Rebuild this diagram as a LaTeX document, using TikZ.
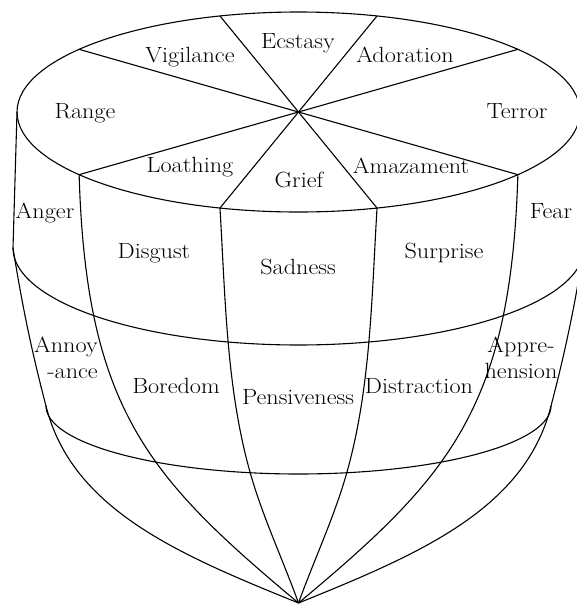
\documentclass[tikz,border=0pt]{standalone}
\newcommand\lblwide[1]{\scalebox{1.1}[1]{#1}}
\begin{document}
\begin{tikzpicture}[x=1pt,y=-1pt,
  wire/.style={line width=1.1pt, black},
  lbl/.style={font=\fontsize{22}{26}\selectfont, inner sep=0pt, text height=15pt, text depth=4pt},
  lbltwo/.style={font=\fontsize{22}{26}\selectfont, inner sep=0pt}]
\useasboundingbox (0,0) rectangle (577,606);
\begin{scope}
\clip (0,0) rectangle (577,606);
% top ellipse
\coordinate (C) at (298.5,112);
\draw[wire] (C) ellipse [x radius=281.5pt, y radius=100pt];
\foreach \t/\n in {38.8/a,73.8/b,106.2/c,141.2/d,218.8/e,253.8/f,286.2/g,321.2/h}
  \coordinate (T\n) at ({298.5+281.5*cos(\t)},{112-100*sin(\t)});
\draw[wire] (Ta) -- (Te);
\draw[wire] (Tb) -- (Tf);
\draw[wire] (Tc) -- (Tg);
\draw[wire] (Td) -- (Th);
% key points
\coordinate (TL) at (17,112);
\coordinate (TR) at (580,112);
\coordinate (ML) at (13,248);
\coordinate (MR) at (584,248);
\coordinate (LL) at (46,406);
\coordinate (LR) at (551,406);
\coordinate (B3) at (250,472);
\coordinate (B4) at (347,472);
\coordinate (A) at (298.5,603);
% middle and lower arcs
\draw[wire] plot[domain=0:180, samples=120] ({298.5-285.5*cos(\x)},{248+97*sin(\x)});
\draw[wire] plot[domain=0:180, samples=120] ({298.5-252.5*cos(\x)},{406+68*sin(\x)});
% outer meridians
\draw[wire] (TL) -- (ML) .. controls (21,298) and (30,345) .. (LL)
  .. controls (72,510) and (180,555) .. (A);
\draw[wire] (TR) -- (MR) .. controls (576,298) and (567,345) .. (LR)
  .. controls (525,510) and (417,555) .. (A);
% inner meridians
\draw[wire] (Te) .. controls (86.1,409.7) and (148.9,478) .. (A);
\draw[wire] (Th) .. controls (510.9,409.7) and (448.1,478) .. (A);
\draw[wire] (Tf) .. controls (225.3,295.8) and (226.2,387.3) .. (B3)
  .. controls (262.4,516.3) and (282.9,559.7) .. (A);
\draw[wire] (Tg) .. controls (371.7,295.8) and (370.8,387.3) .. (B4)
  .. controls (334.6,516.3) and (314.1,559.7) .. (A);
\end{scope}
% labels
\node[lbl] (ecstasy) at (298,43) {\lblwide{Ecstasy}};
\node[lbl] (vigilance) at (190,57) {\lblwide{Vigilance}};
\node[lbl] (adoration) at (405,57) {\lblwide{Adoration}};
\node[lbl] (range) at (85,113) {\lblwide{Range}};
\node[lbl] (terror) at (517,113) {\lblwide{Terror}};
\node[lbl] (loathing) at (190,167) {\lblwide{Loathing}};
\node[lbl] (grief) at (299,182) {\lblwide{Grief}};
\node[lbl] (amazament) at (411,168) {\lblwide{Amazament}};
\node[lbl] (anger) at (45,213) {\lblwide{Anger}};
\node[lbl] (disgust) at (154,253) {\lblwide{Disgust}};
\node[lbl] (sadness) at (298,269) {\lblwide{Sadness}};
\node[lbl] (surprise) at (444,253) {\lblwide{Surprise}};
\node[lbl] (fear) at (551,213) {\lblwide{Fear}};
\node[lbltwo, anchor=east] (annoy) at (98,360)
  {\lblwide{\begin{tabular}{@{}r@{}}Annoy\\-ance\end{tabular}}};
\node[lbl] (boredom) at (176,388) {\lblwide{Boredom}};
\node[lbl] (pensive) at (298,399) {\lblwide{Pensiveness}};
\node[lbl] (distraction) at (419,388) {\lblwide{Distraction}};
\node[lbltwo] (appre) at (521,360)
  {\lblwide{\begin{tabular}{@{}c@{}}Appre-\\hension\end{tabular}}};
\end{tikzpicture}
\end{document}
